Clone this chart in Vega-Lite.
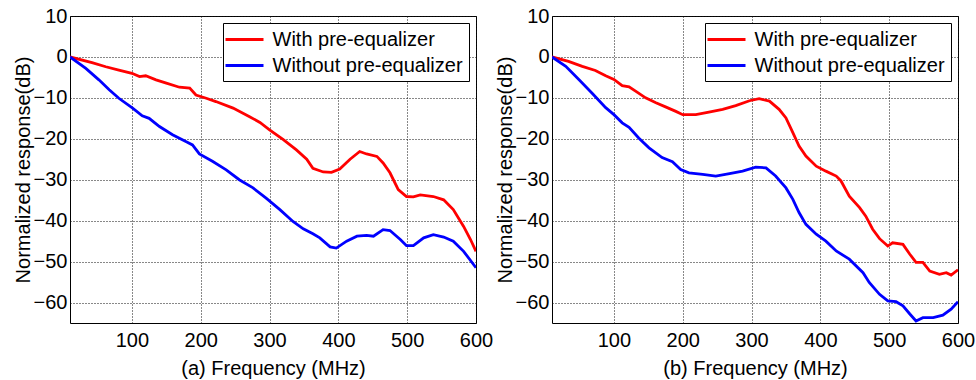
{
  "$schema": "https://vega.github.io/schema/vega-lite/v6.json",
  "padding": {"left": 12, "top": 5, "right": 0, "bottom": 0},
  "background": "white",
  "config": {
    "font": "Liberation Sans",
    "view": {"stroke": "black", "strokeWidth": 1},
    "axis": {
      "labelFont": "Liberation Sans", "titleFont": "Liberation Sans",
      "labelFontSize": 20, "titleFontSize": 20, "labelColor": "black", "titleColor": "black",
      "titleFontWeight": "normal", "ticks": false, "domain": false,
      "grid": true, "gridColor": "#111", "gridDash": [1, 2], "gridOpacity": 1, "gridWidth": 1,
      "labelFlush": false, "labelOverlap": false
    },
    "legend": {
      "labelFont": "Liberation Sans", "labelFontSize": 20, "labelColor": "black", "labelLimit": 0,
      "strokeColor": "black", "fillColor": "white", "padding": 5.5, "cornerRadius": 0
    }
  },
  "data": {"values": [
    {"p":"a","s":"With pre-equalizer","f":10,"v":0},{"p":"a","s":"With pre-equalizer","f":42,"v":-1.4},{"p":"a","s":"With pre-equalizer","f":62,"v":-2.4},{"p":"a","s":"With pre-equalizer","f":81,"v":-3.2},{"p":"a","s":"With pre-equalizer","f":100,"v":-4.0},{"p":"a","s":"With pre-equalizer","f":111,"v":-4.8},{"p":"a","s":"With pre-equalizer","f":120,"v":-4.6},{"p":"a","s":"With pre-equalizer","f":135,"v":-5.6},{"p":"a","s":"With pre-equalizer","f":150,"v":-6.4},{"p":"a","s":"With pre-equalizer","f":169,"v":-7.4},{"p":"a","s":"With pre-equalizer","f":184,"v":-7.6},{"p":"a","s":"With pre-equalizer","f":193,"v":-9.3},{"p":"a","s":"With pre-equalizer","f":208,"v":-10.1},{"p":"a","s":"With pre-equalizer","f":222,"v":-10.9},{"p":"a","s":"With pre-equalizer","f":247,"v":-12.5},{"p":"a","s":"With pre-equalizer","f":271,"v":-14.6},{"p":"a","s":"With pre-equalizer","f":286,"v":-16},{"p":"a","s":"With pre-equalizer","f":300,"v":-17.8},{"p":"a","s":"With pre-equalizer","f":320,"v":-20.2},{"p":"a","s":"With pre-equalizer","f":339,"v":-22.7},{"p":"a","s":"With pre-equalizer","f":354,"v":-25},{"p":"a","s":"With pre-equalizer","f":363,"v":-27.2},{"p":"a","s":"With pre-equalizer","f":378,"v":-28.1},{"p":"a","s":"With pre-equalizer","f":390,"v":-28.2},{"p":"a","s":"With pre-equalizer","f":402,"v":-27.4},{"p":"a","s":"With pre-equalizer","f":417,"v":-25},{"p":"a","s":"With pre-equalizer","f":431,"v":-23.1},{"p":"a","s":"With pre-equalizer","f":441,"v":-23.7},{"p":"a","s":"With pre-equalizer","f":456,"v":-24.3},{"p":"a","s":"With pre-equalizer","f":465,"v":-25.9},{"p":"a","s":"With pre-equalizer","f":475,"v":-28.3},{"p":"a","s":"With pre-equalizer","f":487,"v":-32.4},{"p":"a","s":"With pre-equalizer","f":499,"v":-34.1},{"p":"a","s":"With pre-equalizer","f":509,"v":-34.2},{"p":"a","s":"With pre-equalizer","f":519,"v":-33.7},{"p":"a","s":"With pre-equalizer","f":538,"v":-34.1},{"p":"a","s":"With pre-equalizer","f":553,"v":-34.9},{"p":"a","s":"With pre-equalizer","f":567,"v":-37.3},{"p":"a","s":"With pre-equalizer","f":582,"v":-41.4},{"p":"a","s":"With pre-equalizer","f":592,"v":-44.6},{"p":"a","s":"With pre-equalizer","f":600,"v":-47.5},
    {"p":"a","s":"Without pre-equalizer","f":10,"v":0},{"p":"a","s":"Without pre-equalizer","f":33,"v":-2.8},{"p":"a","s":"Without pre-equalizer","f":52,"v":-5.6},{"p":"a","s":"Without pre-equalizer","f":67,"v":-8.0},{"p":"a","s":"Without pre-equalizer","f":81,"v":-10.1},{"p":"a","s":"Without pre-equalizer","f":101,"v":-12.5},{"p":"a","s":"Without pre-equalizer","f":115,"v":-14.4},{"p":"a","s":"Without pre-equalizer","f":125,"v":-15},{"p":"a","s":"Without pre-equalizer","f":140,"v":-17},{"p":"a","s":"Without pre-equalizer","f":159,"v":-19},{"p":"a","s":"Without pre-equalizer","f":179,"v":-20.7},{"p":"a","s":"Without pre-equalizer","f":188,"v":-21.5},{"p":"a","s":"Without pre-equalizer","f":198,"v":-23.7},{"p":"a","s":"Without pre-equalizer","f":217,"v":-25.5},{"p":"a","s":"Without pre-equalizer","f":237,"v":-27.6},{"p":"a","s":"Without pre-equalizer","f":256,"v":-30},{"p":"a","s":"Without pre-equalizer","f":276,"v":-32},{"p":"a","s":"Without pre-equalizer","f":295,"v":-34.5},{"p":"a","s":"Without pre-equalizer","f":315,"v":-37.3},{"p":"a","s":"Without pre-equalizer","f":334,"v":-40.2},{"p":"a","s":"Without pre-equalizer","f":349,"v":-42},{"p":"a","s":"Without pre-equalizer","f":363,"v":-43.2},{"p":"a","s":"Without pre-equalizer","f":373,"v":-44.2},{"p":"a","s":"Without pre-equalizer","f":388,"v":-46.4},{"p":"a","s":"Without pre-equalizer","f":397,"v":-46.7},{"p":"a","s":"Without pre-equalizer","f":412,"v":-45},{"p":"a","s":"Without pre-equalizer","f":427,"v":-43.8},{"p":"a","s":"Without pre-equalizer","f":441,"v":-43.6},{"p":"a","s":"Without pre-equalizer","f":451,"v":-43.8},{"p":"a","s":"Without pre-equalizer","f":465,"v":-42.2},{"p":"a","s":"Without pre-equalizer","f":475,"v":-42.4},{"p":"a","s":"Without pre-equalizer","f":490,"v":-44.6},{"p":"a","s":"Without pre-equalizer","f":499,"v":-46.1},{"p":"a","s":"Without pre-equalizer","f":509,"v":-46.1},{"p":"a","s":"Without pre-equalizer","f":524,"v":-44.2},{"p":"a","s":"Without pre-equalizer","f":538,"v":-43.4},{"p":"a","s":"Without pre-equalizer","f":553,"v":-44},{"p":"a","s":"Without pre-equalizer","f":567,"v":-45},{"p":"a","s":"Without pre-equalizer","f":582,"v":-47.5},{"p":"a","s":"Without pre-equalizer","f":600,"v":-51.5},
    {"p":"b","s":"With pre-equalizer","f":10,"v":0},{"p":"b","s":"With pre-equalizer","f":34,"v":-1.1},{"p":"b","s":"With pre-equalizer","f":54,"v":-2.3},{"p":"b","s":"With pre-equalizer","f":73,"v":-3.3},{"p":"b","s":"With pre-equalizer","f":88,"v":-4.6},{"p":"b","s":"With pre-equalizer","f":100,"v":-5.5},{"p":"b","s":"With pre-equalizer","f":112,"v":-7.0},{"p":"b","s":"With pre-equalizer","f":122,"v":-7.3},{"p":"b","s":"With pre-equalizer","f":132,"v":-8.4},{"p":"b","s":"With pre-equalizer","f":146,"v":-10},{"p":"b","s":"With pre-equalizer","f":161,"v":-11.2},{"p":"b","s":"With pre-equalizer","f":175,"v":-12.2},{"p":"b","s":"With pre-equalizer","f":190,"v":-13.3},{"p":"b","s":"With pre-equalizer","f":200,"v":-14.1},{"p":"b","s":"With pre-equalizer","f":219,"v":-14.1},{"p":"b","s":"With pre-equalizer","f":238,"v":-13.5},{"p":"b","s":"With pre-equalizer","f":258,"v":-12.8},{"p":"b","s":"With pre-equalizer","f":277,"v":-11.9},{"p":"b","s":"With pre-equalizer","f":297,"v":-10.7},{"p":"b","s":"With pre-equalizer","f":311,"v":-10.2},{"p":"b","s":"With pre-equalizer","f":326,"v":-10.8},{"p":"b","s":"With pre-equalizer","f":340,"v":-12.8},{"p":"b","s":"With pre-equalizer","f":350,"v":-14.9},{"p":"b","s":"With pre-equalizer","f":360,"v":-18.5},{"p":"b","s":"With pre-equalizer","f":369,"v":-21.8},{"p":"b","s":"With pre-equalizer","f":379,"v":-24.2},{"p":"b","s":"With pre-equalizer","f":394,"v":-26.7},{"p":"b","s":"With pre-equalizer","f":408,"v":-27.9},{"p":"b","s":"With pre-equalizer","f":423,"v":-29.1},{"p":"b","s":"With pre-equalizer","f":430,"v":-30.3},{"p":"b","s":"With pre-equalizer","f":442,"v":-34},{"p":"b","s":"With pre-equalizer","f":457,"v":-36.8},{"p":"b","s":"With pre-equalizer","f":466,"v":-38.9},{"p":"b","s":"With pre-equalizer","f":476,"v":-42.1},{"p":"b","s":"With pre-equalizer","f":486,"v":-44.4},{"p":"b","s":"With pre-equalizer","f":498,"v":-46.2},{"p":"b","s":"With pre-equalizer","f":505,"v":-45.4},{"p":"b","s":"With pre-equalizer","f":520,"v":-45.8},{"p":"b","s":"With pre-equalizer","f":530,"v":-48.2},{"p":"b","s":"With pre-equalizer","f":539,"v":-50.2},{"p":"b","s":"With pre-equalizer","f":549,"v":-50.2},{"p":"b","s":"With pre-equalizer","f":559,"v":-52.3},{"p":"b","s":"With pre-equalizer","f":573,"v":-53.1},{"p":"b","s":"With pre-equalizer","f":583,"v":-52.7},{"p":"b","s":"With pre-equalizer","f":590,"v":-53.3},{"p":"b","s":"With pre-equalizer","f":600,"v":-52},
    {"p":"b","s":"Without pre-equalizer","f":10,"v":0},{"p":"b","s":"Without pre-equalizer","f":30,"v":-2.3},{"p":"b","s":"Without pre-equalizer","f":49,"v":-5.5},{"p":"b","s":"Without pre-equalizer","f":68,"v":-8.8},{"p":"b","s":"Without pre-equalizer","f":88,"v":-12.4},{"p":"b","s":"Without pre-equalizer","f":100,"v":-14.1},{"p":"b","s":"Without pre-equalizer","f":112,"v":-16.1},{"p":"b","s":"Without pre-equalizer","f":122,"v":-17.2},{"p":"b","s":"Without pre-equalizer","f":136,"v":-19.8},{"p":"b","s":"Without pre-equalizer","f":151,"v":-22.2},{"p":"b","s":"Without pre-equalizer","f":170,"v":-24.6},{"p":"b","s":"Without pre-equalizer","f":185,"v":-25.6},{"p":"b","s":"Without pre-equalizer","f":197,"v":-27.5},{"p":"b","s":"Without pre-equalizer","f":209,"v":-28.3},{"p":"b","s":"Without pre-equalizer","f":229,"v":-28.7},{"p":"b","s":"Without pre-equalizer","f":248,"v":-29.1},{"p":"b","s":"Without pre-equalizer","f":268,"v":-28.5},{"p":"b","s":"Without pre-equalizer","f":287,"v":-27.9},{"p":"b","s":"Without pre-equalizer","f":306,"v":-26.9},{"p":"b","s":"Without pre-equalizer","f":321,"v":-27.1},{"p":"b","s":"Without pre-equalizer","f":335,"v":-29.1},{"p":"b","s":"Without pre-equalizer","f":350,"v":-32},{"p":"b","s":"Without pre-equalizer","f":360,"v":-34.8},{"p":"b","s":"Without pre-equalizer","f":369,"v":-38},{"p":"b","s":"Without pre-equalizer","f":379,"v":-40.9},{"p":"b","s":"Without pre-equalizer","f":394,"v":-43.3},{"p":"b","s":"Without pre-equalizer","f":408,"v":-45},{"p":"b","s":"Without pre-equalizer","f":423,"v":-47.4},{"p":"b","s":"Without pre-equalizer","f":442,"v":-49.4},{"p":"b","s":"Without pre-equalizer","f":462,"v":-52.7},{"p":"b","s":"Without pre-equalizer","f":471,"v":-55.1},{"p":"b","s":"Without pre-equalizer","f":486,"v":-58},{"p":"b","s":"Without pre-equalizer","f":498,"v":-59.6},{"p":"b","s":"Without pre-equalizer","f":510,"v":-59.8},{"p":"b","s":"Without pre-equalizer","f":520,"v":-60.8},{"p":"b","s":"Without pre-equalizer","f":530,"v":-62.8},{"p":"b","s":"Without pre-equalizer","f":539,"v":-64.5},{"p":"b","s":"Without pre-equalizer","f":549,"v":-63.7},{"p":"b","s":"Without pre-equalizer","f":564,"v":-63.7},{"p":"b","s":"Without pre-equalizer","f":578,"v":-63.1},{"p":"b","s":"Without pre-equalizer","f":590,"v":-61.6},{"p":"b","s":"Without pre-equalizer","f":600,"v":-59.8}
  ]},
  "spacing": 0,
  "resolve": {"legend": {"color": "independent"}},
  "hconcat": [
    {
      "width": 406, "height": 307,
      "transform": [{"filter": "datum.p === 'a'"}],
      "mark": {"type": "line", "strokeWidth": 2.8, "clip": true},
      "encoding": {
        "x": {"field": "f", "type": "quantitative", "scale": {"domain": [10, 600], "nice": false, "zero": false},
              "axis": {"values": [100, 200, 300, 400, 500, 600], "title": "(a) Frequency (MHz)", "labelPadding": 7, "titlePadding": 8}},
        "y": {"field": "v", "type": "quantitative", "scale": {"domain": [-65, 10], "nice": false, "zero": false},
              "axis": {"values": [10, 0, -10, -20, -30, -40, -50, -60], "title": "Normalized response(dB)", "labelPadding": 3, "titlePadding": 0}},
        "color": {"field": "s", "type": "nominal",
                  "scale": {"domain": ["With pre-equalizer", "Without pre-equalizer"], "range": ["#ff0000", "#0000ff"]},
                  "legend": {"title": null, "orient": "top-right", "offset": 7, "symbolType": "M-2,0H2", "symbolSize": 361, "symbolOffset": 5, "symbolStrokeWidth": 2.8, "rowPadding": 5, "labelOffset": 17}},
        "order": {"field": "f", "type": "quantitative"}
      }
    },
    {
      "width": 406, "height": 307,
      "transform": [{"filter": "datum.p === 'b'"}],
      "mark": {"type": "line", "strokeWidth": 2.8, "clip": true},
      "encoding": {
        "x": {"field": "f", "type": "quantitative", "scale": {"domain": [10, 600], "nice": false, "zero": false},
              "axis": {"values": [100, 200, 300, 400, 500, 600], "title": "(b) Frequency (MHz)", "labelPadding": 7, "titlePadding": 8}},
        "y": {"field": "v", "type": "quantitative", "scale": {"domain": [-65, 10], "nice": false, "zero": false},
              "axis": {"values": [10, 0, -10, -20, -30, -40, -50, -60], "title": "Normalized response(dB)", "labelPadding": 3, "titlePadding": 0}},
        "color": {"field": "s", "type": "nominal",
                  "scale": {"domain": ["With pre-equalizer", "Without pre-equalizer"], "range": ["#ff0000", "#0000ff"]},
                  "legend": {"title": null, "orient": "top-right", "offset": 7, "symbolType": "M-2,0H2", "symbolSize": 361, "symbolOffset": 5, "symbolStrokeWidth": 2.8, "rowPadding": 5, "labelOffset": 17}},
        "order": {"field": "f", "type": "quantitative"}
      }
    }
  ]
}
